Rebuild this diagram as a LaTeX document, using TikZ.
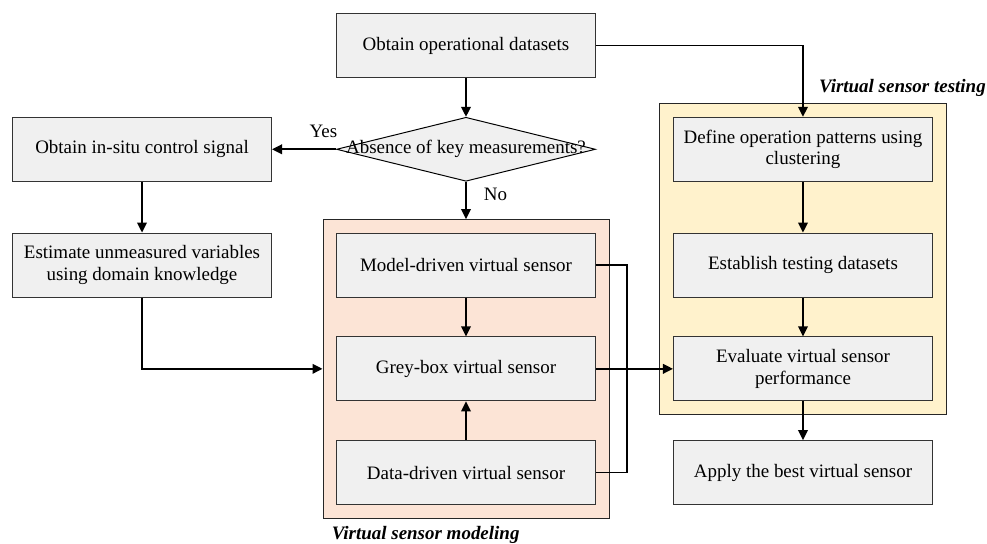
\documentclass[tikz,border=0pt]{standalone}
\usepackage{fontspec}
\setmainfont{Liberation Serif}
\usepackage{xcolor}
\usetikzlibrary{arrows.meta, positioning, shapes.geometric, fit, backgrounds}

\definecolor{boxgrey}{HTML}{F0F0F0}
\definecolor{modelfill}{HTML}{FCE4D6}
\definecolor{testfill}{HTML}{FFF2CC}

\begin{document}
\begin{tikzpicture}[
  node distance=9.7mm and 16mm,
  stepbox/.style={draw=black!80, fill=boxgrey, line width=0.7pt, minimum width=64.75mm, minimum height=16mm,
               align=center, inner sep=1pt, font=\fontsize{13.5}{15.5}\selectfont},
  decision/.style={diamond, draw=black, fill=boxgrey, line width=0.7pt, minimum width=64.75mm,
               minimum height=16mm, inner sep=0pt, label={[font=\fontsize{13.5}{15.5}\selectfont]center:#1}},
  groupbg/.style={draw=black!85, line width=0.7pt},
  grouplabel/.style={inner sep=0pt, font=\fontsize{13.5}{15.5}\selectfont\bfseries\itshape},
  arr/.style={-{Triangle[length=2.5mm, width=2.4mm]}, line width=1.2pt},
  link/.style={line width=1.2pt}
]
\useasboundingbox (-116.5mm,-124.625mm) rectangle (130.25mm,11.375mm);

\node[stepbox] (datasets) {Obtain operational datasets};
\node[decision={Absence of key measurements?}, below=of datasets] (absence) {};
\node[stepbox, left=16mm of absence] (insitu) {Obtain in-situ control signal};
\node[stepbox, below=12.7mm of insitu] (estimate) {Estimate unmeasured variables\\using domain knowledge};

\node[stepbox, below=12.7mm of absence] (model) {Model-driven virtual sensor};
\node[stepbox, below=of model] (grey) {Grey-box virtual sensor};
\node[stepbox, below=of grey] (data) {Data-driven virtual sensor};

\node[stepbox, right=19.25mm of absence] (define) {Define operation patterns using\\clustering};
\node[stepbox, below=12.7mm of define] (establish) {Establish testing datasets};
\node[stepbox, below=of establish] (evaluate) {Evaluate virtual sensor\\performance};
\node[stepbox, below=of evaluate] (apply) {Apply the best virtual sensor};

\begin{scope}[on background layer]
\node[groupbg, fill=modelfill, fit=(model)(data), inner sep=3.25mm] (modeling) {};
\node[groupbg, fill=testfill, fit=(define)(evaluate), inner sep=3.4mm] (testing) {};
\end{scope}
\node[grouplabel, anchor=base west] (modlabel) at ([xshift=2.25mm, yshift=-5.25mm]modeling.south west) {Virtual sensor modeling};
\node[grouplabel, anchor=base east] (testlabel) at ([xshift=9.75mm, yshift=2.5mm]testing.north east) {Virtual sensor testing};

\draw[arr] (datasets) -- (absence);
\draw[arr] (absence.west) -- node[pos=0, anchor=base east, xshift=0.5mm, yshift=3mm, font=\fontsize{13.5}{15.5}\selectfont, inner sep=0pt] {Yes} (insitu.east);
\draw[arr] (absence.south) -- node[anchor=base west, xshift=4.25mm, font=\fontsize{13.5}{15.5}\selectfont, inner sep=0pt] {No} (modeling.north);
\draw[arr] (insitu) -- (estimate);
\draw[arr] (estimate.south) |- (modeling.west);
\draw[arr] (model) -- (grey);
\draw[arr] (data) -- (grey);
\draw[link] (model.east) -- ++(7.75mm,0) |- (data.east);
\draw[arr] (grey.east) -- (evaluate.west);
\draw[arr] (datasets.east) -| (define.north);
\draw[arr] (define) -- (establish);
\draw[arr] (establish) -- (evaluate);
\draw[arr] (evaluate) -- (apply);
\end{tikzpicture}
\end{document}
